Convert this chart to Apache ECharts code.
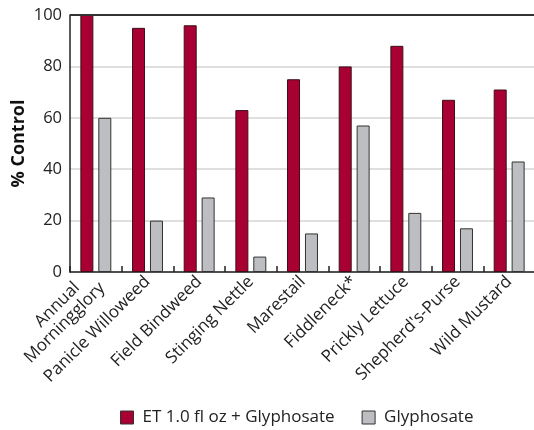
<!DOCTYPE html>
<html><head><meta charset="utf-8">
<script src="https://cdn.jsdelivr.net/npm/echarts@6/dist/echarts.min.js"></script>
<style>html,body{margin:0;padding:0;background:#fff}#c{width:534px;height:430px}</style>
</head><body><div id="c"></div>
<script>
const categories = ["Annual    \nMorningglory", "Panicle Willoweed", "Field Bindweed", "Stinging Nettle", "Marestail", "Fiddleneck*", "Prickly Lettuce", "Shepherd's-Purse", "Wild Mustard"];
const etGlyphosate = [100, 95, 96, 63, 75, 80, 88, 67, 71];
const glyphosate = [60, 20, 29, 6, 15, 57, 23, 17, 43];
const yTicks = [0, 20, 40, 60, 80, 100];
const seriesNames = ["ET 1.0 fl oz + Glyphosate", "Glyphosate"];

const font = "'Open Sans', 'DejaVu Sans', sans-serif";
const chart = echarts.init(document.getElementById('c'), null, {renderer: 'canvas'});
chart.setOption({
  animation: false,
  grid: {left: 70, top: 15, right: -1, bottom: 158, containLabel: false, outerBoundsMode: 'none'},
  legend: {
    top: 404, left: 115, itemWidth: 13, itemHeight: 13, itemGap: 27,
    icon: 'rect',
    textStyle: {fontFamily: font, fontSize: 17, color: '#222', padding: [0, 0, 0, 4]},
    itemStyle: {borderColor: '#333', borderWidth: 1},
    data: seriesNames
  },
  xAxis: {
    type: 'category', data: categories,
    axisLine: {lineStyle: {color: '#222', width: 1.5}},
    axisTick: {show: true, inside: true, length: 6, lineStyle: {color: '#222', width: 1.5}},
    axisLabel: {rotate: 45, fontFamily: font, fontSize: 17, color: '#222', margin: 7, lineHeight: 18, interval: 0, align: 'right', hideOverlap: false}
  },
  yAxis: {
    type: 'value', min: 0, max: 100, interval: 20,
    name: '% Control', nameLocation: 'middle', nameGap: 42, nameMoveOverlap: false,
    nameTextStyle: {fontFamily: font, fontSize: 18, fontWeight: 'bold', color: '#111'},
    axisLine: {show: true, lineStyle: {color: '#222', width: 1.5}},
    axisTick: {show: false},
    axisLabel: {fontFamily: font, fontSize: 16.5, color: '#222', margin: 8,
      formatter: v => yTicks.includes(v) ? String(v) : ''},
    splitLine: {lineStyle: {color: '#d4d4d4', width: 1.5}}
  },
  series: [
    {name: seriesNames[0], type: 'bar', data: etGlyphosate, barWidth: 13, barGap: '38%',
     itemStyle: {color: '#A80033', borderColor: '#3a1018', borderWidth: 1}},
    {name: seriesNames[1], type: 'bar', data: glyphosate, barWidth: 13,
     itemStyle: {color: '#BDBEC1', borderColor: '#333', borderWidth: 1}},
    {type: 'line', data: [], markLine: {silent: true, symbol: 'none', label: {show: false},
      lineStyle: {color: '#333', width: 2, type: 'solid'}, data: [{yAxis: 100}]}}
  ]
});
</script></body></html>
